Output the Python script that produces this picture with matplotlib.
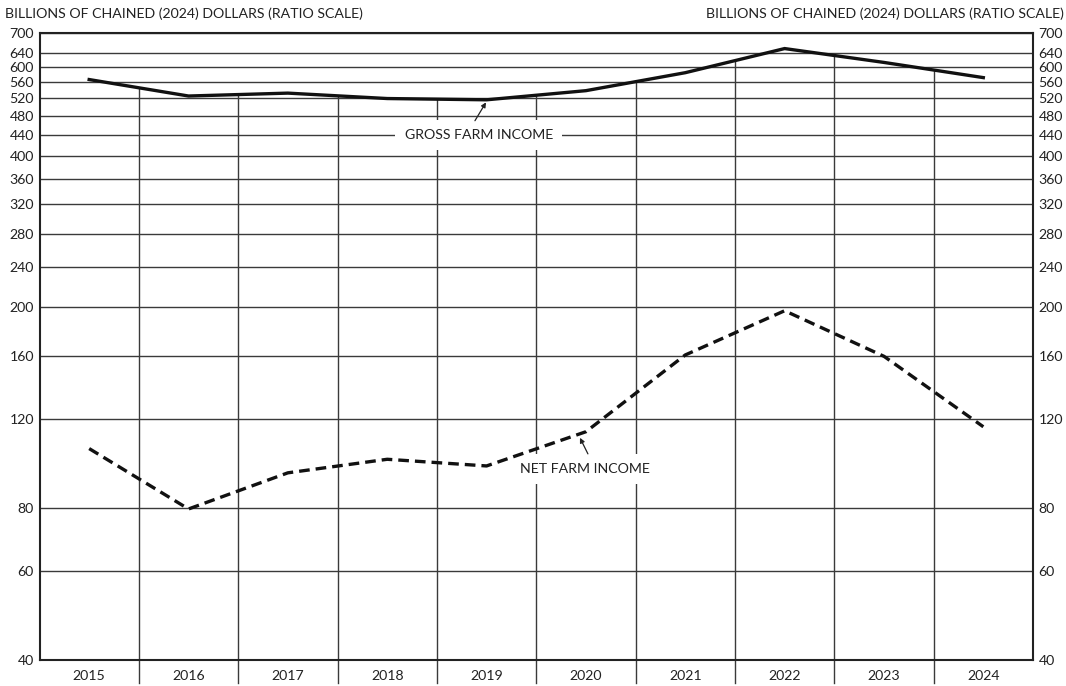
import matplotlib
matplotlib.use("Agg")
import matplotlib.pyplot as plt
import numpy as np
from matplotlib.transforms import blended_transform_factory

years = ["2015", "2016", "2017", "2018", "2019", "2020", "2021", "2022", "2023", "2024"]
gross_farm_income = [566, 525, 532, 519, 516, 538, 584, 652, 612, 571]
net_farm_income = [105, 79.7, 94, 100, 97, 113.4, 161, 197, 160, 116]
y_ticks = [40, 60, 80, 120, 160, 200, 240, 280, 320, 360, 400, 440, 480, 520, 560, 600, 640, 700]
axis_title = "BILLIONS OF CHAINED (2024) DOLLARS (RATIO SCALE)"

plt.rcParams['font.family'] = ['Lato', 'DejaVu Sans']
FS = 10.2
GRID = "#3a3a3a"

fig = plt.figure(figsize=(10.66, 6.86), dpi=100)
ax = fig.add_axes([39.5/1066, 1-660/686, (1033-39.5)/1066, (660-33)/686])
ax.set_yscale('log')
ax.set_ylim(40, 700)
ax.set_xlim(-0.5, len(years)-0.5)
x = np.arange(len(years))

# horizontal grid
for t in y_ticks:
    ax.axhline(t, color=GRID, lw=1.0, zorder=1)

# vertical separators from bottom up to gross line (and below axis)
trans = blended_transform_factory(ax.transData, ax.transAxes)
for i in range(len(years)-1):
    xb = i + 0.5
    top = np.sqrt(gross_farm_income[i]*gross_farm_income[i+1])
    ax.plot([xb, xb], [40, top], color=GRID, lw=1.0, zorder=1)
    ax.plot([xb, xb], [-0.037, 0], color=GRID, lw=1.0, transform=trans, clip_on=False, zorder=1)

ax.plot(x, gross_farm_income, color="#111111", lw=2.4, zorder=4, solid_joinstyle='miter')
ax.plot(x, net_farm_income, color="#111111", lw=2.4, ls=(0, (3.2, 1.8)), zorder=4)

ax.set_yticks(y_ticks)
ax.set_yticklabels([str(t) for t in y_ticks])
ax.yaxis.set_minor_locator(matplotlib.ticker.NullLocator())
ax.tick_params(axis='y', which='both', length=0, labelsize=FS, pad=4, labelright=True, right=False, colors="#222222")
ax.set_xticks(x)
ax.set_xticklabels(years)
ax.tick_params(axis='x', length=0, labelsize=FS, pad=7, colors="#222222")

for s in ax.spines.values():
    s.set_color("#222222")
    s.set_linewidth(1.5)
    s.set_zorder(5)

# labels with white boxes
ax.text(3.92, 440, "GROSS FARM INCOME", ha='center', va='center', fontsize=FS, color="#222222",
        bbox=dict(facecolor='white', edgecolor='none', pad=6.5), zorder=3)
ax.annotate("", xy=(3.994, 510), xytext=(3.883, 469),
            arrowprops=dict(arrowstyle='-|>', color="#222222", lw=0.9, mutation_scale=7,
                            shrinkA=0, shrinkB=0), zorder=3.5)
ax.text(4.99, 95.7, "NET FARM INCOME", ha='center', va='center', fontsize=FS, color="#222222",
        bbox=dict(facecolor='white', edgecolor='none', pad=6.5), zorder=3)
ax.annotate("", xy=(4.94, 110.3), xytext=(5.02, 102.5),
            arrowprops=dict(arrowstyle='-|>', color="#222222", lw=0.9, mutation_scale=7,
                            shrinkA=0, shrinkB=0), zorder=3.5)

fig.text(5/1066, 1-14/686, axis_title, ha='left', va='center', fontsize=FS, color="#222222")
fig.text(1-2/1066, 1-14/686, axis_title, ha='right', va='center', fontsize=FS, color="#222222")

fig.savefig("out.png", dpi=100, facecolor='white')
